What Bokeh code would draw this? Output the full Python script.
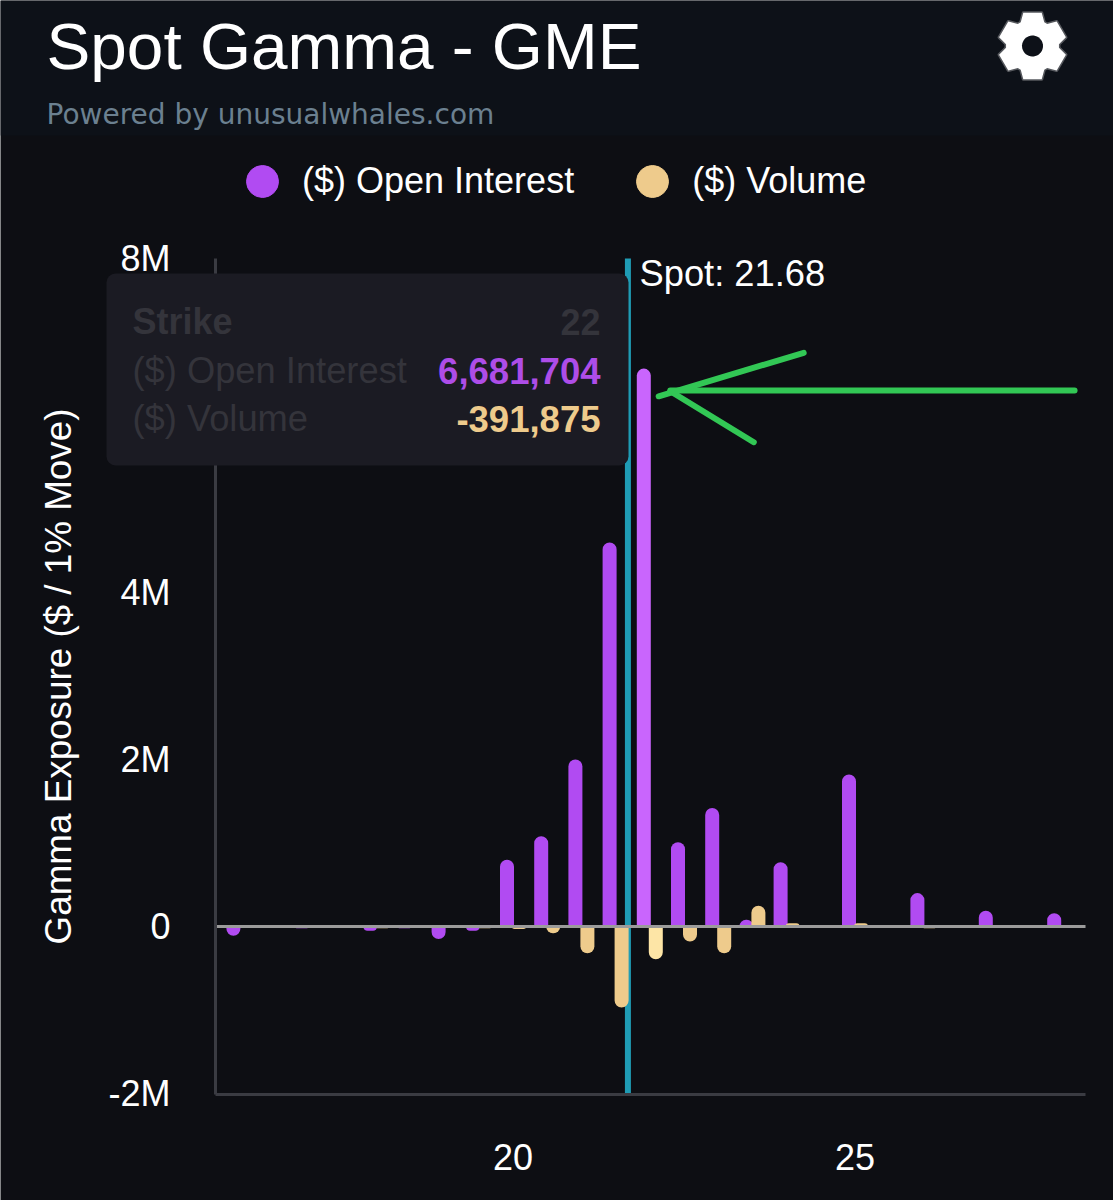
import numpy as np
from bokeh.embed import file_html
from bokeh.resources import INLINE
from bokeh.plotting import figure
from bokeh.models import (BoxAnnotation, ColumnDataSource, FixedTicker, Label, Legend,
                          LegendItem, PolyAnnotation)

# ---------- data ----------
strikes = [16, 17, 18, 18.5, 19, 19.5, 20, 20.5, 21, 21.5, 22, 22.5, 23, 23.5, 24, 25, 26, 27, 28]
open_interest = [-110000, -20000, -50000, -20000, -150000, -50000, 800000, 1080000, 2000000,
                 4600000, 6681704, 1010000, 1420000, 80000, 770000, 1820000, 400000, 190000, 160000]
volume = [0, 0, -20000, 0, 0, -20000, -30000, -80000, -320000,
          -970000, -391875, -180000, -320000, 250000, 40000, 40000, -20000, 0, 0]
hovered_strike = 22
spot = 21.68
y_ticks = [-2000000, 0, 2000000, 4000000, 8000000]
y_tick_labels = ["-2M", "0", "2M", "4M", "8M"]
x_ticks = [20, 25]
x_tick_labels = ["20", "25"]
arrow_xs = [[28.21, 22.30], [24.25, 22.13], [23.52, 22.30]]
arrow_ys = [[6420000, 6420000], [6870000, 6350000], [5800000, 6410000]]

BG_BODY = "#0d0e13"
BG_HEAD = "#0d1118"
PURPLE, PURPLE_HI = "#b14bf2", "#c965fd"
SAND, SAND_HI = "#eecb8c", "#fde5a6"
FONT = "Liberation Sans"

# reference-pixel geometry of the plot area
W, H = 1113, 1200
FL, FR, FT, FB = 215, 1085, 258, 1094
X0PX, XS = 512.5, 68.4      # px of strike 20, px per strike
Y0PX, YS = 926, 83.5        # px of zero, px per million


def dx(px):
    return 20 + (px - X0PX) / XS


def dy(py):
    return (Y0PX - py) / YS * 1e6


# The frame spans the whole canvas so that the header, legend and hover card can sit
# anywhere; the axes are pinned to the plot area with fixed_location and bounds.
p = figure(frame_width=W, frame_height=H, min_border=0,
           x_range=(dx(0), dx(W)), y_range=(dy(H), dy(0)),
           output_backend="svg", toolbar_location=None,
           background_fill_color=BG_BODY, border_fill_color=BG_BODY, outline_line_color=None)
p.grid.visible = False
p.add_layout(BoxAnnotation(top=dy(0), bottom=dy(135), left=dx(0), right=dx(W), fill_color=BG_HEAD,
                           fill_alpha=1, line_color=None, level="underlay"))

xax, yax = p.xaxis[0], p.yaxis[0]
for ax in (xax, yax):
    ax.axis_line_color = "#3a3b42"
    ax.axis_line_width = 3
    ax.major_tick_line_color = None
    ax.minor_tick_line_color = None
    ax.major_tick_in = 0
    ax.major_tick_out = 0
    ax.major_label_text_color = "#ffffff"
    ax.major_label_text_font = FONT
    ax.major_label_text_font_size = "36px"

xax.fixed_location = dy(FB)
xax.bounds = (dx(FL), dx(FR))
xax.ticker = FixedTicker(ticks=x_ticks)
xax.major_label_overrides = dict(zip(x_ticks, x_tick_labels))
xax.major_label_standoff = 49
yax.fixed_location = dx(FL)
yax.bounds = (dy(FB), dy(FT))
yax.ticker = FixedTicker(ticks=y_ticks)
yax.major_label_overrides = dict(zip(y_ticks, y_tick_labels))
yax.major_label_standoff = 45
yax.axis_label = "Gamma Exposure ($ / 1% Move)"
yax.axis_label_text_color = "#ffffff"
yax.axis_label_text_font = FONT
yax.axis_label_text_font_size = "36.8px"
yax.axis_label_text_font_style = "normal"
yax.axis_label_standoff = 27

# spot line behind the bars
p.segment(x0=[spot], x1=[spot], y0=[dy(FB)], y1=[dy(FT)], line_color="#1f9cb5", line_width=6)

BAR_W = 14 / XS
DODGE = 6 / XS
RAD = 7


def bars(values, offset, base, hi):
    for sign, radius in ((1, (RAD, RAD, 0, 0)), (-1, (0, 0, RAD, RAD))):
        sel = [i for i, v in enumerate(values) if v * sign > 0]
        src = ColumnDataSource(dict(
            x=[strikes[i] + offset for i in sel],
            top=[values[i] for i in sel],
            color=[hi if strikes[i] == hovered_strike else base for i in sel]))
        p.vbar(x="x", bottom=0, top="top", width=BAR_W, source=src, fill_color="color",
               line_color=None, border_radius=radius)


bars(open_interest, -DODGE, PURPLE, PURPLE_HI)
bars(volume, DODGE, SAND, SAND_HI)

p.segment(x0=[dx(FL)], x1=[dx(FR)], y0=[0], y1=[0], line_color="#9b9b9b", line_width=3)
p.multi_line(arrow_xs, arrow_ys, line_color="#32c755", line_width=6, line_cap="round")


def text(s, x, y, size, color="#ffffff", align="left", style="normal", font=FONT, level="annotation"):
    p.add_layout(Label(x=dx(x), y=dy(y), text=s, text_font=font, text_font_size=f"{size}px",
                       text_color=color, text_align=align, text_font_style=style,
                       text_baseline="alphabetic", level=level))


text("Spot Gamma - GME", 46, 46, 65.7)
text("Powered by unusualwhales.com", 46, 114, 28, color="#6b8090", font="DejaVu Sans")
text("Spot: 21.68", 639, 273, 36.3)

# legend
r_oi = p.scatter([float("nan")], [float("nan")], marker="circle", size=34, color=PURPLE)
r_vol = p.scatter([float("nan")], [float("nan")], marker="circle", size=34, color=SAND)
GLYPH = 80
legend = Legend(items=[LegendItem(label="($) Open Interest", renderers=[r_oi]),
                       LegendItem(label="($) Volume", renderers=[r_vol])],
                orientation="horizontal", location=(262 - GLYPH / 2, H - 181 - GLYPH / 2),
                glyph_width=GLYPH, glyph_height=GLYPH, label_standoff=0, spacing=38,
                padding=0, margin=0, background_fill_alpha=0, border_line_color=None,
                label_text_color="#ffffff", label_text_font=FONT, label_text_font_size="36px")
p.add_layout(legend)

# hover card
p.add_layout(BoxAnnotation(left=dx(106), right=dx(628), top=dy(273), bottom=dy(465),
                           fill_color="#1b1b23", fill_alpha=1, line_color=None,
                           border_radius=9, level="overlay"))
DIM = "#34343b"
text("Strike", 132, 321, 36, DIM, style="bold", level="overlay")
text("22", 600, 321, 36, DIM, align="right", style="bold", level="overlay")
text("($) Open Interest", 132, 370, 36.3, DIM, level="overlay")
text("6,681,704", 600, 370, 36.5, "#ae4de8", align="right", style="bold", level="overlay")
text("($) Volume", 132, 418, 36.3, DIM, level="overlay")
text("-391,875", 600, 418, 36.5, SAND, align="right", style="bold", level="overlay")

# settings gear
GX, GY = 1032, 45.5
ang, rad = [], []
for k in range(6):
    c = np.pi / 2 + k * np.pi / 3
    for da, r in ((-0.46, 26.5), (-0.27, 34.5), (0.27, 34.5), (0.46, 26.5)):
        ang.append(c + da)
        rad.append(r)
ang, rad = np.array(ang), np.array(rad)
p.add_layout(PolyAnnotation(xs=list(dx(GX + rad * np.cos(ang))), ys=list(dy(GY - rad * np.sin(ang))),
                            fill_color="#ffffff", fill_alpha=1, line_color="#ffffff", line_width=3,
                            line_join="round"))
t = np.linspace(0, 2 * np.pi, 40)
p.add_layout(PolyAnnotation(xs=list(dx(GX + 10.5 * np.cos(t))), ys=list(dy(GY - 10.5 * np.sin(t))),
                            fill_color=BG_HEAD, fill_alpha=1, line_color=None))

open("out.html", "w").write(file_html(p, INLINE, title="Spot Gamma - GME"))
